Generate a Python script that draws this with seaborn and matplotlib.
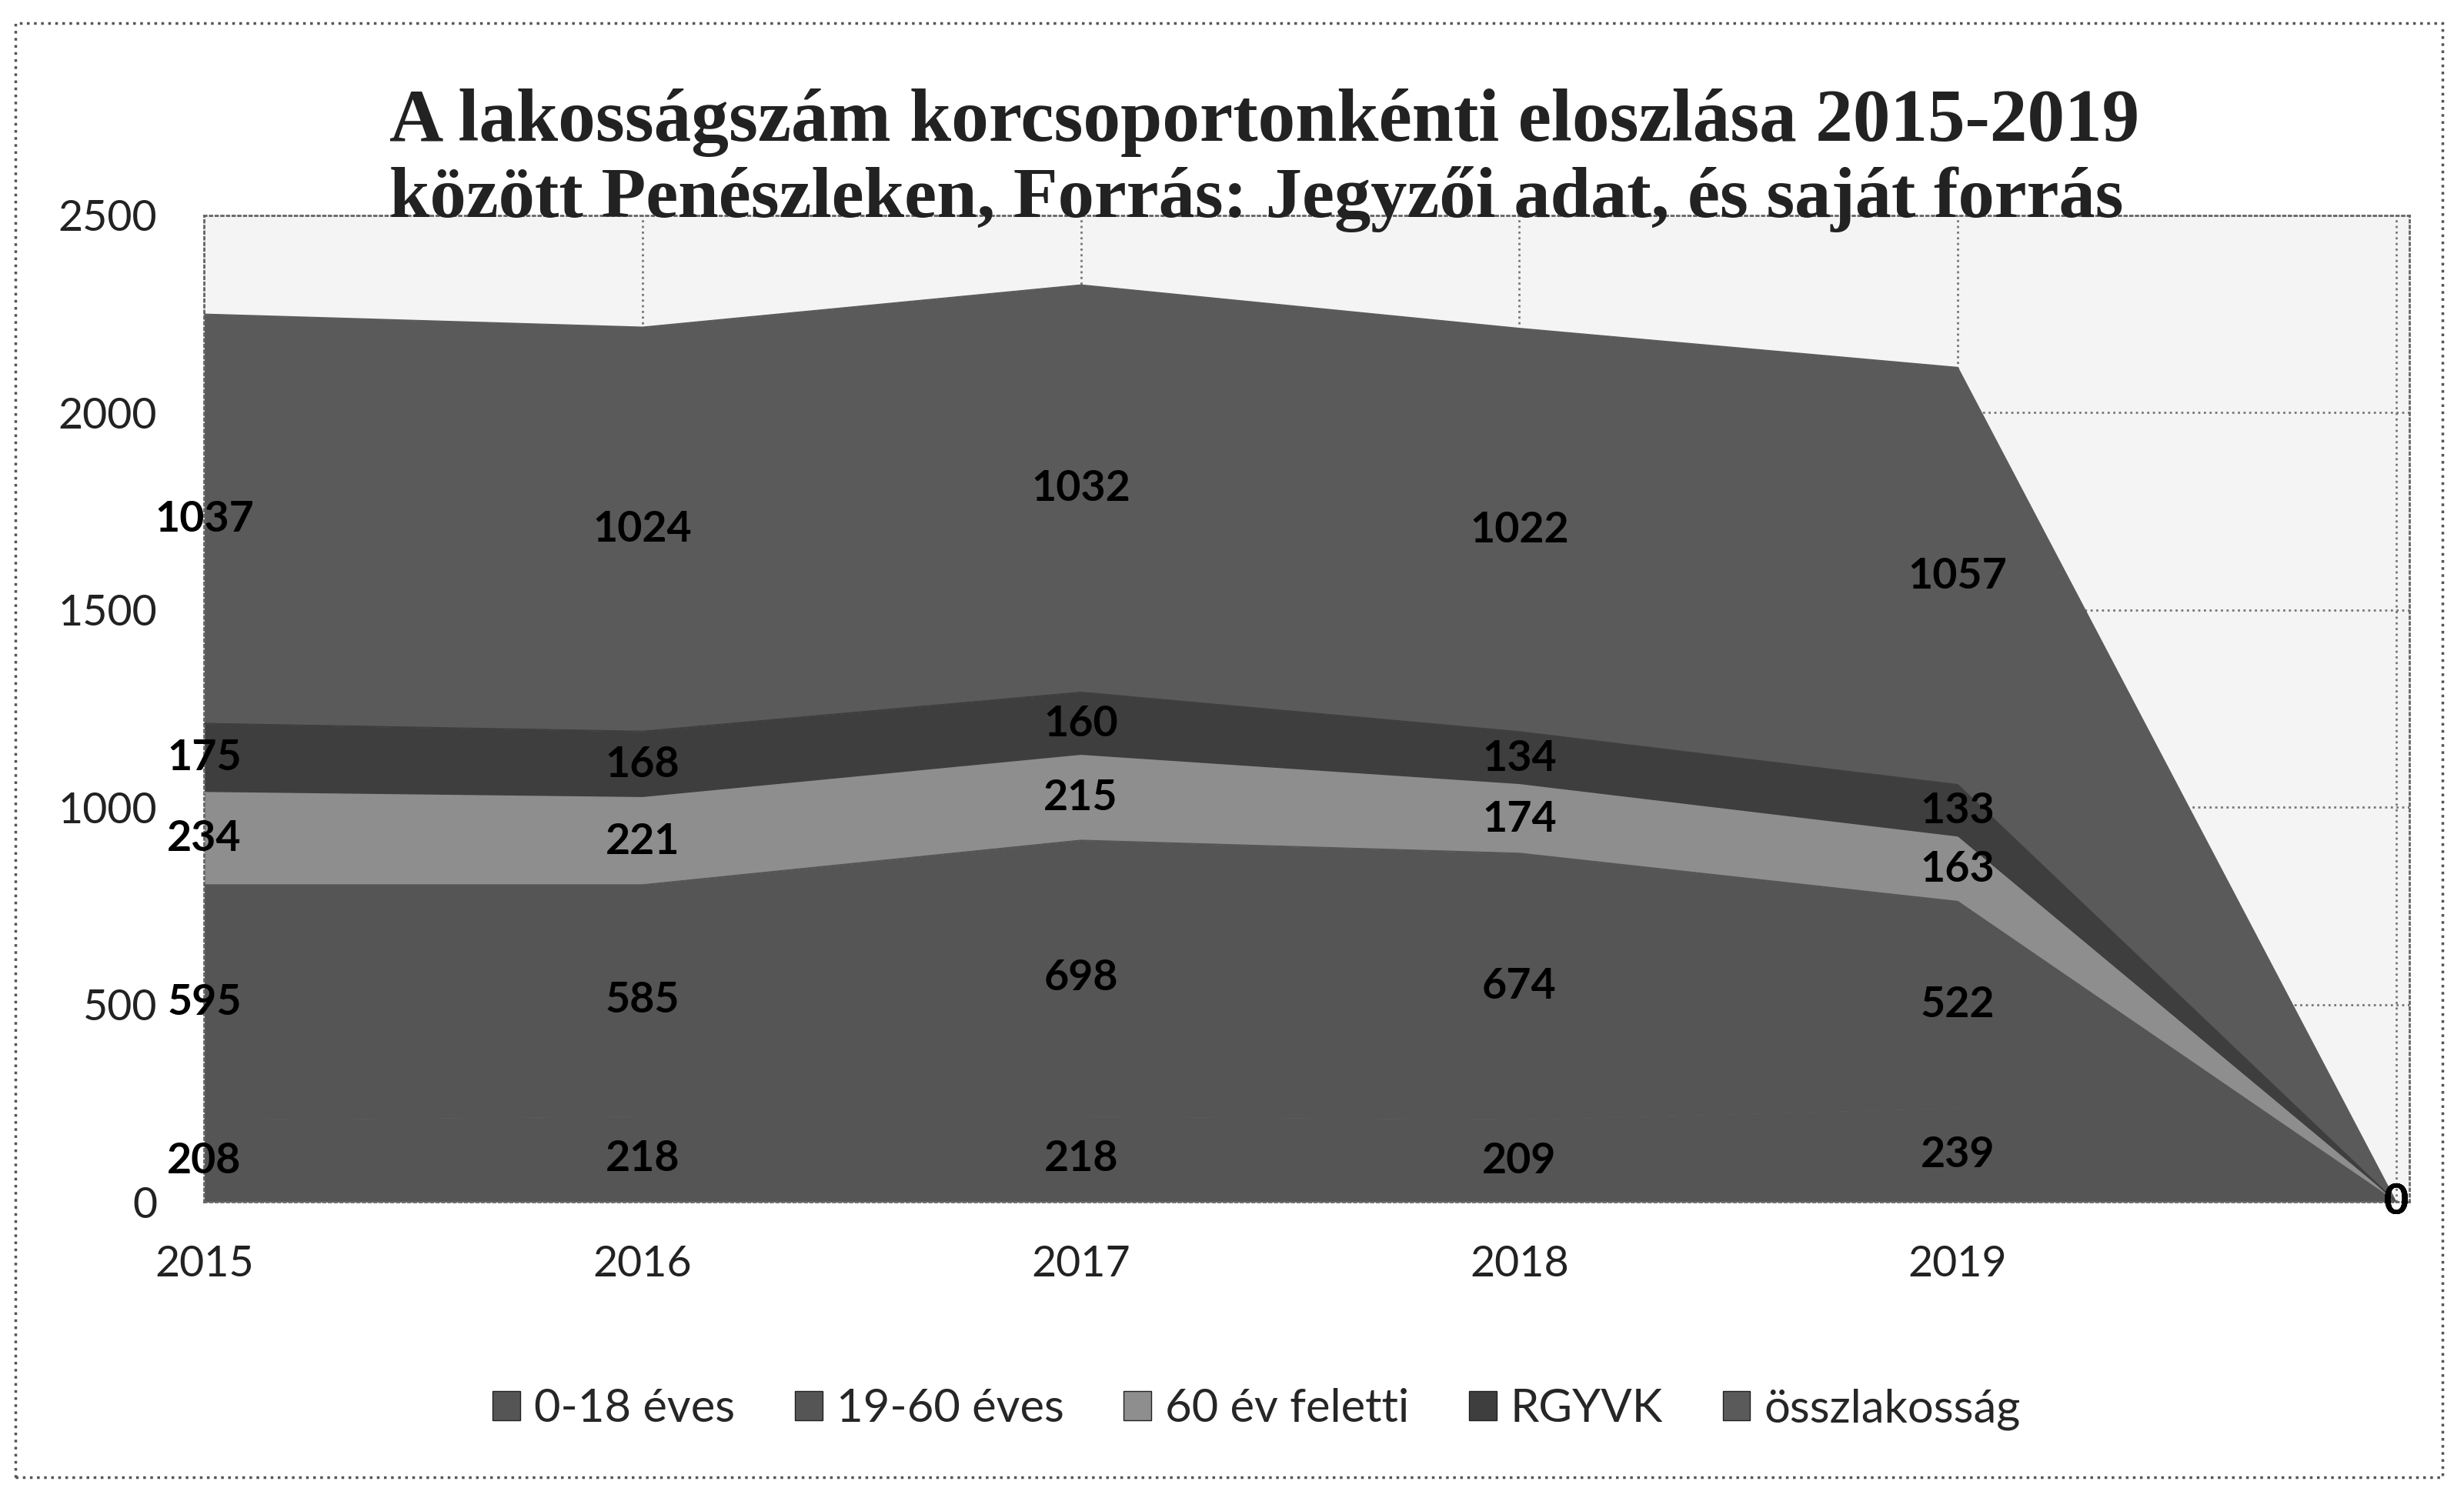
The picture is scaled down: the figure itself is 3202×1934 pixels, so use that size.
import numpy as np
import pandas as pd
import matplotlib.pyplot as plt
from matplotlib.patches import Patch, Rectangle
import seaborn as sns

# adatok
years = ['2015', '2016', '2017', '2018', '2019', '']
kor_0_18 = [208, 218, 218, 209, 239, 0]
kor_19_60 = [595, 585, 698, 674, 522, 0]
kor_60_felett = [234, 221, 215, 174, 163, 0]
rgyvk = [175, 168, 160, 134, 133, 0]
osszlakossag = [1037, 1024, 1032, 1022, 1057, 0]

series_names = ['0-18 éves', '19-60 éves', '60 év feletti', 'RGYVK', 'összlakosság']
colors = ['#555555', '#555555', '#8e8e8e', '#3e3e3e', '#5a5a5a']

title_1 = 'A lakosságszám korcsoportonkénti eloszlása 2015-2019'
title_2 = 'között Penészleken, Forrás: Jegyzői adat, és saját forrás'

sns.set_theme(style='white')
plt.rcParams['font.family'] = ['Lato', 'DejaVu Sans']

df = pd.DataFrame({
    series_names[0]: kor_0_18,
    series_names[1]: kor_19_60,
    series_names[2]: kor_60_felett,
    series_names[3]: rgyvk,
    series_names[4]: osszlakossag,
}, index=years)
upper = df.cumsum(axis=1)
lower = upper - df

fig = plt.figure(figsize=(32.02, 19.34), dpi=100)
ax = fig.add_axes([0.0829, 0.1922, 0.9777 - 0.0829, 0.8553 - 0.1922])
ax.set_facecolor('#f4f4f4')
x = np.arange(len(years))

for name, color in zip(series_names, colors):
    ax.fill_between(x, lower[name].to_numpy(), upper[name].to_numpy(),
                    color=color, linewidth=0, zorder=2)
    # band edge in the band's own colour, only smooths the outline
    sns.lineplot(x=x, y=upper[name].to_numpy(), ax=ax, color=color,
                 linewidth=1.5, zorder=3)
    mids = (lower[name] + upper[name]) / 2
    for i, v in enumerate(df[name]):
        ax.text(i, mids.iloc[i], str(v), ha='center', va='center',
                fontsize=40, fontweight='bold', color='black', zorder=5)

ax.set_xlim(0, 5.03)
ax.set_ylim(0, 2500)
ax.set_xticks(x, labels=years)
ax.set_yticks(range(0, 2501, 500))
ax.tick_params(axis='y', length=0, pad=44, labelsize=40, labelcolor='#222')
ax.tick_params(axis='x', length=0, pad=40, labelsize=40, labelcolor='#222')
ax.set_axisbelow(True)
ax.grid(True, linestyle=':', color='#777', linewidth=2)
for sp in ax.spines.values():
    sp.set_linestyle(':')
    sp.set_color('#666')
    sp.set_linewidth(2)

handles = [Patch(facecolor=c, edgecolor='#222') for c in colors]
fig.legend(handles, series_names, loc='center', bbox_to_anchor=(0.51, 0.053),
           ncol=5, frameon=False, fontsize=43, handlelength=0.6,
           handleheight=0.6, columnspacing=1.3, handletextpad=0.3)

fig.text(0.513, 0.9176, title_1, ha='center', va='center',
         family='Liberation Serif', fontweight='bold', fontsize=70, color='#222')
fig.text(0.51, 0.866, title_2, ha='center', va='center',
         family='Liberation Serif', fontweight='bold', fontsize=68, color='#222')

fig.add_artist(Rectangle((0.0064, 0.0074), 0.985, 0.977, transform=fig.transFigure,
                         fill=False, linestyle=':', linewidth=2.5, edgecolor='#555'))

fig.savefig('out.png', dpi=100)
